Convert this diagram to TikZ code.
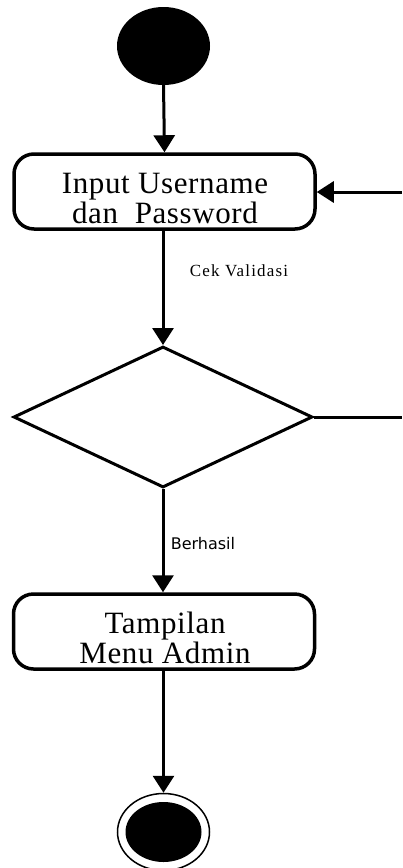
\documentclass[tikz,border=0pt]{standalone}
\usepackage{fontspec}
\setmainfont{Liberation Serif}
\newfontfamily\lblsans{DejaVu Sans}
\newfontfamily\spacedserif[LetterSpace=7]{Liberation Serif}
\newfontfamily\boxserif[LetterSpace=2]{Liberation Serif}
\usetikzlibrary{shapes.geometric,arrows.meta}
\begin{document}
\begin{tikzpicture}[x=1pt,y=-1pt,
  actbox/.style={draw,line width=3.5pt,rounded corners=20pt,minimum width=301pt,minimum height=75pt,inner sep=0pt},
  boxtext/.style={inner sep=0pt,align=center,font=\boxserif\fontsize{31}{30}\selectfont},
  decbox/.style={draw,diamond,line width=3pt,minimum width=299pt,minimum height=141pt,inner sep=0pt,shape aspect=2.1},
  flow/.style={line width=3pt,-{Triangle[length=17pt,width=21pt]}},
  plainline/.style={line width=3pt}]
\useasboundingbox (0,0) rectangle (402,868);
\node[ellipse,fill=black,minimum width=93pt,minimum height=78pt,inner sep=0pt] (start) at (163.5,46) {};
\node[actbox] (input) at (164.5,191.5) {};
\node[boxtext] (inputtxt) at (165,198) {Input Username\\dan\ \ Password};
\node[decbox] (cek) at (163,417) {};
\node[actbox] (menu) at (164,631.5) {};
\node[boxtext] (menutxt) at (165,638) {Tampilan\\Menu Admin};
\node[ellipse,draw,line width=1.5pt,minimum width=92pt,minimum height=77pt,inner sep=0pt] (endo) at (163.5,832) {};
\node[ellipse,fill=black,minimum width=76pt,minimum height=60pt,inner sep=0pt] (endi) at (163.5,832) {};
\coordinate (backin) at (402,192);
\coordinate (backout) at (402,417);
\draw[flow] (start.south) -- (input.north);
\draw[flow] (input.south -| cek.north) -- node[right,xshift=22pt,yshift=17pt,font=\spacedserif\fontsize{17}{17}\selectfont]{Cek Validasi} (cek.north);
\draw[flow] (cek.south) -- node[right,xshift=3pt,yshift=-3pt,font=\lblsans\fontsize{16}{16}\selectfont]{Berhasil} (menu.north -| cek.south);
\draw[flow] (menu.south -| endo.north) -- (endo.north);
\draw[flow] (backin) -- (input.east |- backin);
\draw[plainline] (cek.east) -- (backout);
\end{tikzpicture}
\end{document}
